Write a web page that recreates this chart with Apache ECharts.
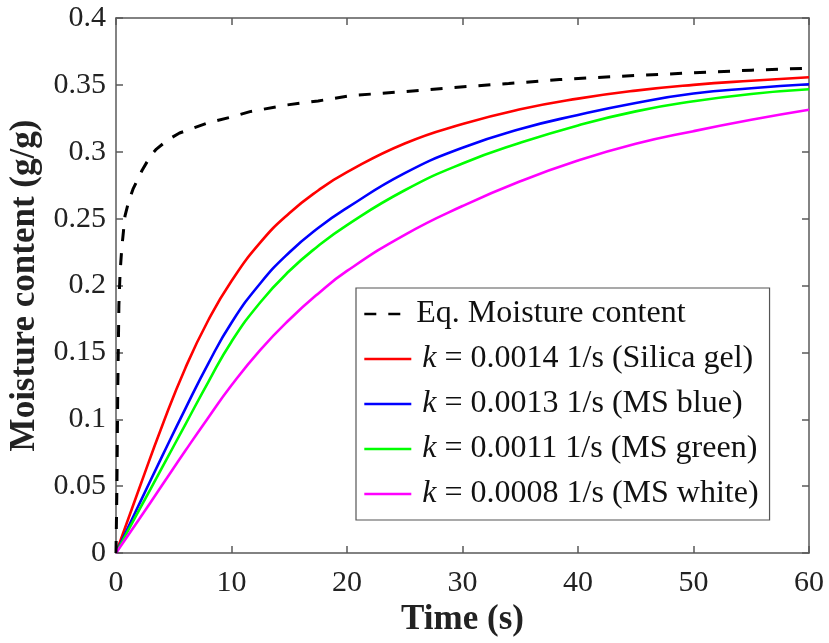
<!DOCTYPE html>
<html>
<head>
<meta charset="utf-8">
<title>Moisture content vs time</title>
<script src="https://cdn.jsdelivr.net/npm/echarts@6/dist/echarts.min.js"></script>
<style>
  html, body { margin: 0; padding: 0; background: #ffffff; }
  #chart { width: 829px; height: 643px; }
</style>
</head>
<body>
<div id="chart"></div>
<script>
// Equilibrium moisture content (dashed curve), time in s
const eqTime = [0, 0.08, 0.15, 0.25, 0.35, 0.5, 0.78, 1.1, 1.47, 2.25, 3, 3.5, 4.5, 5.5, 6.8, 8.1, 10, 11.6, 14.8, 17.5, 20.4, 25, 29.2, 34, 38.4, 45, 50, 55, 60];
const eqMoisture = [0, 0.05, 0.12, 0.185, 0.209, 0.228, 0.252, 0.263, 0.272, 0.286, 0.297, 0.302, 0.309, 0.314, 0.318, 0.322, 0.326, 0.330, 0.335, 0.338, 0.342, 0.345, 0.348, 0.351, 0.354, 0.357, 0.359, 0.361, 0.3625];

// Sorbent uptake curves, sampled on a shared time grid
const uptakeTime = [0, 2, 4, 6, 8, 10, 12.5, 15, 17.5, 20, 25, 30, 35, 40, 45, 50, 55, 60];
const silicaGel = [0, 0.048, 0.0952, 0.1382, 0.1742, 0.2034, 0.2322, 0.254, 0.271, 0.2847, 0.3062, 0.3207, 0.3317, 0.3397, 0.3457, 0.3500, 0.3531, 0.3557];
const msBlue    = [0, 0.0364, 0.0724, 0.1078, 0.1418, 0.1722, 0.2017, 0.2247, 0.243, 0.258, 0.284, 0.303, 0.317, 0.3275, 0.3365, 0.3435, 0.3475, 0.3505];
const msGreen   = [0, 0.032, 0.064, 0.096, 0.128, 0.158, 0.1875, 0.2108, 0.2295, 0.2452, 0.2712, 0.2912, 0.3067, 0.3197, 0.3302, 0.3377, 0.3432, 0.3467];
const msWhite   = [0, 0.0252, 0.0508, 0.0764, 0.1014, 0.1254, 0.1519, 0.1744, 0.1939, 0.2109, 0.2379, 0.2594, 0.2779, 0.2934, 0.3059, 0.3154, 0.3239, 0.3314];

const seriesNames = [
  'Eq. Moisture content',
  'k = 0.0014 1/s (Silica gel)',
  'k = 0.0013 1/s (MS blue)',
  'k = 0.0011 1/s (MS green)',
  'k = 0.0008 1/s (MS white)'
];
const seriesColors = ['#000000', '#ff0000', '#0000ff', '#00ff00', '#ff00ff'];

const xTicks = { min: 0, max: 60, interval: 10 };
const yTicks = { min: 0, max: 0.4, interval: 0.05 };

const FONT = "'Liberation Serif', 'Times New Roman', 'DejaVu Serif', serif";
const AXIS_COLOR = '#5a5a5a';

function pairs(xs, ys) {
  return xs.map((x, i) => [x, ys[i]]);
}

const chart = echarts.init(document.getElementById('chart'), null, { renderer: 'canvas' });

const commonAxis = {
  axisLine: { show: true, onZero: false, lineStyle: { color: AXIS_COLOR, width: 1.5 } },
  axisTick: { show: true, inside: true, length: 7, lineStyle: { color: AXIS_COLOR, width: 1.5 } },
  splitLine: { show: false }
};

function uptakeSeries(idx, values) {
  return {
    name: seriesNames[idx], type: 'line', data: pairs(uptakeTime, values),
    symbol: 'none', smooth: 0.5,
    lineStyle: { color: seriesColors[idx], width: 2.6 },
    itemStyle: { color: seriesColors[idx] }
  };
}

const option = {
  backgroundColor: '#ffffff',
  animation: false,
  textStyle: { fontFamily: FONT },
  grid: { left: 116, right: 20, top: 18, bottom: 90, containLabel: false, outerBoundsMode: 'none' },
  xAxis: [
    Object.assign({}, commonAxis, {
      type: 'value', position: 'bottom',
      min: xTicks.min, max: xTicks.max, interval: xTicks.interval,
      name: 'Time (s)', nameLocation: 'middle', nameGap: 48,
      nameTextStyle: { fontFamily: FONT, fontSize: 35, fontWeight: 'bold', color: '#222222' },
      axisLabel: { fontFamily: FONT, fontSize: 30, color: '#222222', margin: 15 }
    }),
    Object.assign({}, commonAxis, {
      type: 'value', position: 'top',
      min: xTicks.min, max: xTicks.max, interval: xTicks.interval,
      axisLabel: { show: false }
    })
  ],
  yAxis: [
    Object.assign({}, commonAxis, {
      type: 'value', position: 'left',
      min: yTicks.min, max: yTicks.max, interval: yTicks.interval,
      name: 'Moisture content (g/g)', nameLocation: 'middle', nameGap: 60,
      nameTextStyle: { fontFamily: FONT, fontSize: 35, fontWeight: 'bold', color: '#222222' },
      axisLabel: { fontFamily: FONT, fontSize: 30, color: '#222222', margin: 10 }
    }),
    Object.assign({}, commonAxis, {
      type: 'value', position: 'right',
      min: yTicks.min, max: yTicks.max, interval: yTicks.interval,
      axisLabel: { show: false }
    })
  ],
  legend: {
    orient: 'vertical',
    left: 356, top: 288,
    padding: [10, 11, 10, 7],
    backgroundColor: '#ffffff',
    borderColor: '#555555', borderWidth: 1.2, borderRadius: 0,
    itemWidth: 47, itemHeight: 14, itemGap: 13,
    itemStyle: { opacity: 0 },
    lineStyle: { width: 2.6 },
    data: seriesNames,
    formatter: function (name) {
      if (name.indexOf('k = ') === 0) {
        return '{i|k}' + name.slice(1);
      }
      return name;
    },
    textStyle: {
      fontFamily: FONT, fontSize: 32, color: '#111111', lineHeight: 32,
      rich: {
        i: { fontFamily: FONT, fontSize: 32, fontStyle: 'italic', color: '#111111', lineHeight: 32, padding: [0, 0, 0, 6] }
      }
    }
  },
  series: [
    {
      name: seriesNames[0], type: 'line', xAxisIndex: 0, yAxisIndex: 0,
      data: pairs(eqTime, eqMoisture),
      symbol: 'none', smooth: false,
      lineStyle: { color: seriesColors[0], width: 3, type: [12, 12] },
      itemStyle: { color: seriesColors[0] }, z: 5
    },
    uptakeSeries(1, silicaGel),
    uptakeSeries(2, msBlue),
    uptakeSeries(3, msGreen),
    uptakeSeries(4, msWhite)
  ]
};

chart.setOption(option);
</script>
</body>
</html>
